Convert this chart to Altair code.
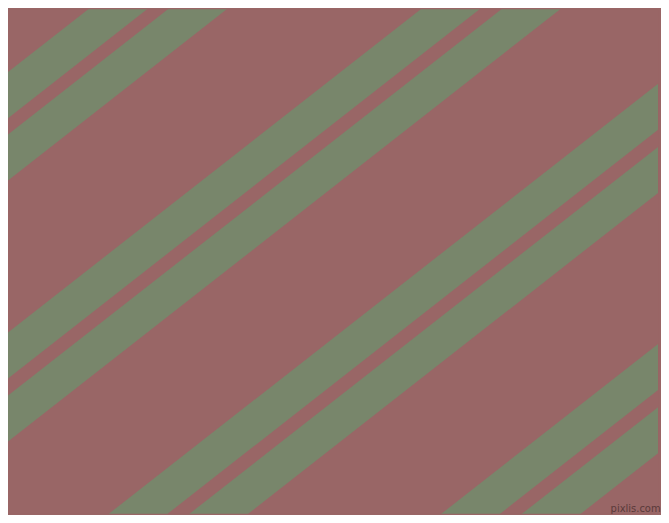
import altair as alt
import pandas as pd

# Stripe description: x position (px) where each stripe's centre line meets the top edge (y=0)
stripe_top_x = [128.5, 208.5, 462.5, 543.5, 796.5, 877.5, 1130.5, 1211.5]
slope = 0.783          # vertical drop per horizontal px (stripes rise to the right)
y_ends = [-80, 620]    # extend beyond the canvas, clipped

bg_color = "#996666"
stripe_color = "#78866B"

rows = []
for i, xc in enumerate(stripe_top_x):
    for y in y_ends:
        rows.append({"stripe": i, "x": xc - y / slope, "y": y})
df = pd.DataFrame(rows)

wm = pd.DataFrame({"x": [638.5], "y": [513], "t": ["pixlis.com"]})

# page has 8px margin on every side: show reference coords 8..661 / 8..515 so stripes line up
xs = alt.Scale(domain=[8, 661], nice=False, zero=False)
ys = alt.Scale(domain=[8, 515], nice=False, zero=False, reverse=True)

lines = alt.Chart(df).mark_line(
    color=stripe_color, strokeWidth=36.4, clip=True, strokeCap="butt"
).encode(
    x=alt.X("x:Q", scale=xs, axis=None),
    y=alt.Y("y:Q", scale=ys, axis=None),
    detail="stripe:N",
)

text = alt.Chart(wm).mark_text(
    font="DejaVu Sans", fontSize=10, color="#5a3a3a", align="center", baseline="alphabetic"
).encode(
    x=alt.X("x:Q", scale=xs, axis=None),
    y=alt.Y("y:Q", scale=ys, axis=None),
    text="t:N",
)

chart = alt.layer(lines, text).properties(
    width=653, height=507, background=bg_color, padding=0
).configure_view(stroke=None, fill=bg_color)

chart.save("out.html", embed_options={"renderer": "svg", "actions": False})
